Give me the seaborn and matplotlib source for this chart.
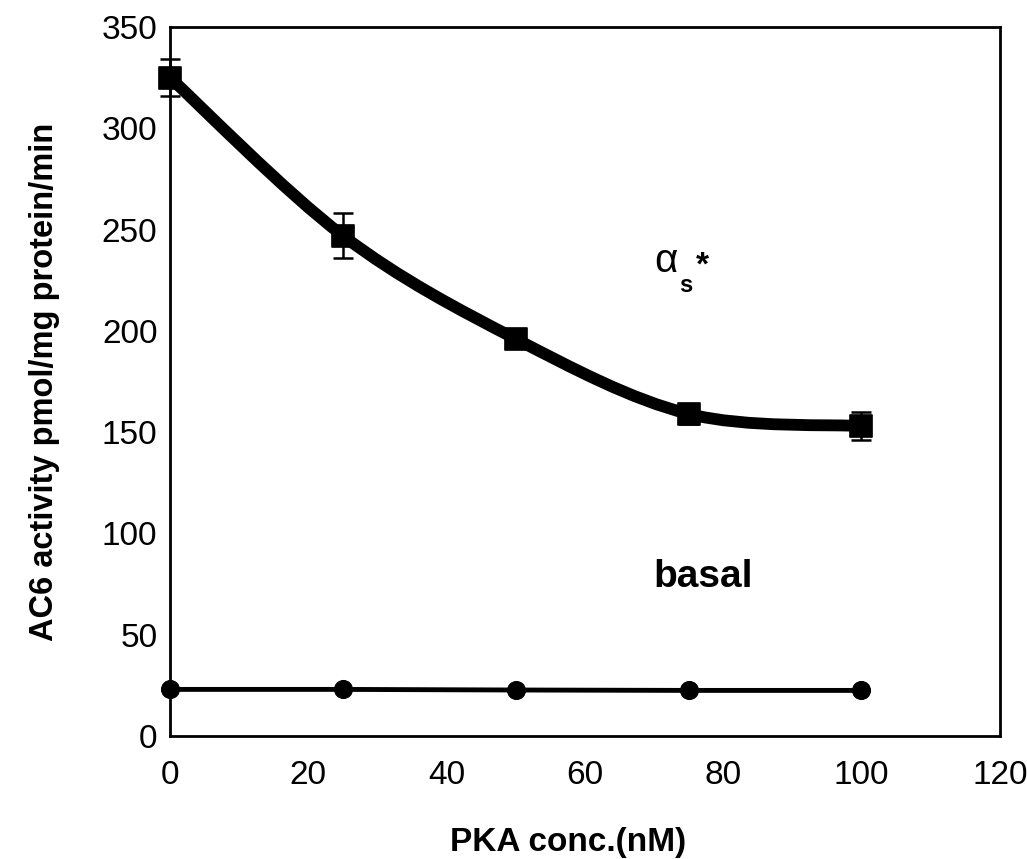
import numpy as np
import pandas as pd
import matplotlib
matplotlib.use("Agg")
import matplotlib.pyplot as plt
from matplotlib.path import Path
from matplotlib.patches import PathPatch
import seaborn as sns

# ---- data ----
pka_conc = [0, 25, 50, 75, 100]
alpha_s_activity = [325, 247, 196, 159, 153]
alpha_s_err = [9, 11, 3, 5, 7]
basal_activity = [23, 23, 22.7, 22.5, 22.5]
x_ticks = [0, 20, 40, 60, 80, 100, 120]
y_ticks = [0, 50, 100, 150, 200, 250, 300, 350]

sns.set_theme(style="white")
plt.rcParams['font.family'] = ['Liberation Sans', 'DejaVu Sans']
plt.rcParams['text.color'] = 'black'
plt.rcParams['axes.labelcolor'] = 'black'

fig = plt.figure(figsize=(10.27, 8.59), dpi=100)
ax = fig.add_axes([0.1655, 0.1432, 0.808, 0.8254])

df = pd.DataFrame({"x": pka_conc, "alpha": alpha_s_activity, "basal": basal_activity})


def smooth_path(xs, ys, t=1/6):
    # Catmull-Rom style smooth curve through data points (Bezier control points)
    pts = np.column_stack([xs, ys]).astype(float)
    verts = [pts[0]]
    codes = [Path.MOVETO]
    n = len(pts)
    for i in range(n - 1):
        p0 = pts[i - 1] if i > 0 else pts[i]
        p1 = pts[i]
        p2 = pts[i + 1]
        p3 = pts[i + 2] if i + 2 < n else pts[i + 1]
        c1 = p1 + (p2 - p0) * t
        c2 = p2 - (p3 - p1) * t
        verts += [c1, c2, p2]
        codes += [Path.CURVE4] * 3
    return Path(verts, codes)


ax.add_patch(PathPatch(smooth_path(pka_conc, alpha_s_activity), fill=False,
                       lw=8.5, edgecolor='black', capstyle='round', joinstyle='round', zorder=3))
ax.errorbar(pka_conc, alpha_s_activity, yerr=alpha_s_err, fmt='none', ecolor='black',
            elinewidth=1.8, capsize=7, capthick=1.8, zorder=4, clip_on=False)
sns.scatterplot(data=df, x="x", y="alpha", marker='s', s=230, color='black',
                edgecolor='black', ax=ax, zorder=5, legend=False, clip_on=False)

sns.lineplot(data=df, x="x", y="basal", color='black', lw=3.5, marker='o',
             markersize=13, markeredgecolor='black', ax=ax, zorder=5, legend=False,
             clip_on=False)

ax.set_xlim(0, 120)
ax.set_ylim(0, 350)
ax.set_xticks(x_ticks)
ax.set_yticks(y_ticks)
ax.tick_params(axis='both', labelsize=24, colors='black', length=3, width=1.5,
               direction='out')
ax.tick_params(axis='x', pad=14)
ax.tick_params(axis='y', pad=6)
for s in ax.spines.values():
    s.set_color('black')
    s.set_linewidth(2)

ax.set_xlabel("PKA conc.(nM)", fontsize=24, fontweight='bold', labelpad=26)
ax.xaxis.label.set_x(0.4795)
ax.set_ylabel("AC6 activity pmol/mg protein/min", fontsize=23.5, fontweight='bold',
              labelpad=30)

ax.text(77.1, 73.5, "basal", fontsize=28, fontweight='bold', ha='center', va='baseline')
ax.text(70.1, 229, "α", fontsize=29, ha='left', va='baseline')
ax.text(73.7, 219, "s", fontsize=17, fontweight='bold', ha='left', va='baseline')
ax.text(76.1, 228, "*", fontsize=24, fontweight='bold', ha='left', va='baseline')

fig.savefig("out.png", dpi=100)
